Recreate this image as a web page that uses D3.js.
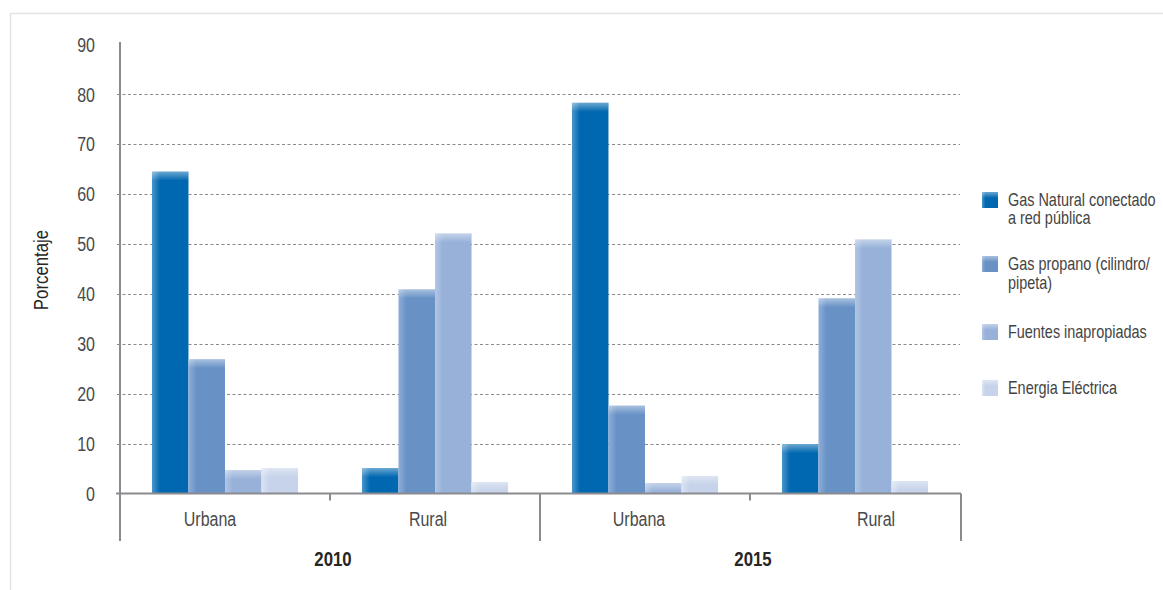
<!DOCTYPE html>
<html>
<head>
<meta charset="utf-8">
<script src="https://cdn.jsdelivr.net/npm/d3@7"></script>
<style>
  html, body { margin: 0; padding: 0; background: #fff; }
  svg { display: block; }
  text { font-family: "Liberation Sans", Arial, sans-serif; }
</style>
</head>
<body>
<svg id="chart" width="1163" height="590"></svg>
<script>
// ---------- data ----------
const years = ["2010", "2015"];
const categories = ["Urbana", "Rural", "Urbana", "Rural"];
const categoryYear = ["2010", "2010", "2015", "2015"];
const seriesNames = [
  ["Gas Natural conectado", "a red pública"],
  ["Gas propano (cilindro/", "pipeta)"],
  ["Fuentes inapropiadas"],
  ["Energia Eléctrica"]
];
const gasNatural = [64.5, 5.1, 78.3, 9.9];
const gasPropano = [26.9, 40.9, 17.6, 39.1];
const fuentesInapropiadas = [4.7, 52.1, 2.1, 50.9];
const energiaElectrica = [5.1, 2.3, 3.5, 2.5];
const yTicks = [0, 10, 20, 30, 40, 50, 60, 70, 80, 90];

const seriesValues = [gasNatural, gasPropano, fuentesInapropiadas, energiaElectrica];

// ---------- styles ----------
const mainColors = ["#0068b0", "#6892c6", "#97b1d9", "#c6d3ea"];
const lightColors = ["#4a95cb", "#8fadd7", "#b2c6e5", "#dae3f2"];
const axisColor = "#8b8b8f";
const NARROW = 0.8;

const svg = d3.select("#chart");
const defs = svg.append("defs");

// narrow text helper (condensed look via horizontal scale)
function narrowText(parent, x, y, str, o) {
  const g = parent.append("g").attr("transform", `translate(${x},${y}) scale(${o.narrow || NARROW},1)`);
  const t = g.append("text").attr("x", 0).attr("y", 0)
    .attr("text-anchor", o.anchor || "start")
    .attr("font-size", o.size || 19)
    .attr("font-weight", o.weight || "normal")
    .attr("fill", o.fill || "#4a4a4a");
  const lines = Array.isArray(str) ? str : [str];
  lines.forEach((ln, li) => {
    t.append("tspan").attr("x", 0).attr("dy", li === 0 ? (o.dy || 0) : (o.gap || 18)).text(ln);
  });
  return t;
}

mainColors.forEach((c, i) => {
  const g = defs.append("linearGradient").attr("id", "hg" + i)
    .attr("x1", "0").attr("x2", "1").attr("y1", "0").attr("y2", "0");
  g.append("stop").attr("offset", "0").attr("stop-color", lightColors[i]);
  g.append("stop").attr("offset", "0.22").attr("stop-color", c);
  g.append("stop").attr("offset", "1").attr("stop-color", c);
});
const vg = defs.append("linearGradient").attr("id", "topfade")
  .attr("x1", "0").attr("x2", "0").attr("y1", "0").attr("y2", "1");
vg.append("stop").attr("offset", "0").attr("stop-color", "#fff").attr("stop-opacity", 0.42);
vg.append("stop").attr("offset", "1").attr("stop-color", "#fff").attr("stop-opacity", 0);

// outer frame
svg.append("rect").attr("x", 10.5).attr("y", 13.5).attr("width", 1170).attr("height", 600)
  .attr("fill", "none").attr("stroke", "#e3e3e3").attr("stroke-width", 1.5);

// ---------- scales ----------
const plotLeft = 120, plotRight = 960;
const x = d3.scaleBand().domain(d3.range(categories.length)).range([plotLeft, plotRight]).padding(0);
const xs = d3.scaleBand().domain(d3.range(seriesValues.length)).range([0, x.bandwidth()])
  .paddingInner(0).paddingOuter(0.875);
const y = d3.scaleLinear().domain([0, 90]).range([493.5, 44.4]);
const yearScale = d3.scaleBand().domain(years).range([plotLeft, plotRight]);

// gridlines (none at the top value)
svg.append("g").selectAll("line").data(yTicks.filter(t => t > 0 && t < 90)).join("line")
  .attr("x1", plotLeft - 3).attr("x2", plotRight)
  .attr("y1", d => Math.round(y(d)) + 0.5).attr("y2", d => Math.round(y(d)) + 0.5)
  .attr("stroke", "#8a8a8a").attr("stroke-width", 1.1).attr("stroke-dasharray", "3,2.5");

// bars
const barsG = svg.append("g");
seriesValues.forEach((vals, si) => {
  const g = barsG.append("g");
  vals.forEach((v, ci) => {
    const bx = x(ci) + xs(si);
    const by = y(v);
    const bh = y(0) - by;
    g.append("rect").attr("x", bx).attr("y", by).attr("width", xs.bandwidth()).attr("height", bh)
      .attr("fill", `url(#hg${si})`);
    g.append("rect").attr("x", bx).attr("y", by).attr("width", xs.bandwidth()).attr("height", Math.min(9, bh))
      .attr("fill", "url(#topfade)");
  });
});

// y axis line
svg.append("line").attr("x1", plotLeft).attr("x2", plotLeft).attr("y1", 42).attr("y2", 541)
  .attr("stroke", axisColor).attr("stroke-width", 2);
// x axis line
svg.append("line").attr("x1", plotLeft - 4).attr("x2", plotRight + 1).attr("y1", y(0)).attr("y2", y(0))
  .attr("stroke", axisColor).attr("stroke-width", 2.2);

// y tick labels
const yLab = svg.append("g");
yTicks.forEach(d => narrowText(yLab, 95, y(d), String(d), { anchor: "end", size: 20, dy: "0.36em", fill: "#4a4a4a" }));

// category ticks (short, between categories inside a year)
const shortTicks = d3.range(categories.length).filter(i => i > 0 && categoryYear[i] === categoryYear[i - 1]);
svg.append("g").selectAll("line").data(shortTicks).join("line")
  .attr("x1", d => x(d)).attr("x2", d => x(d)).attr("y1", y(0)).attr("y2", y(0) + 7)
  .attr("stroke", axisColor).attr("stroke-width", 2);
// year dividers (long)
const yearEdges = [yearScale(years[0]), yearScale(years[1]), yearScale(years[1]) + yearScale.bandwidth()];
svg.append("g").selectAll("line").data(yearEdges.slice(1)).join("line")
  .attr("x1", d => d + (d >= plotRight ? 1 : 0)).attr("x2", d => d + (d >= plotRight ? 1 : 0))
  .attr("y1", y(0)).attr("y2", 541)
  .attr("stroke", axisColor).attr("stroke-width", 2);

// category labels
const labelShift = [-15, -7, -6, 21];
const catG = svg.append("g");
categories.forEach((d, i) => narrowText(catG, x(i) + x.bandwidth() / 2 + labelShift[i], 526, d,
  { anchor: "middle", size: 20, fill: "#4a4a4a" }));

// year labels
const yrG = svg.append("g");
years.forEach(d => narrowText(yrG, yearScale(d) + yearScale.bandwidth() / 2 + 3, 566, d,
  { anchor: "middle", size: 21, weight: "bold", fill: "#262626" }));

// y axis title
svg.append("g").attr("transform", "translate(48,270) rotate(-90) scale(" + NARROW + ",1)")
  .append("text").attr("text-anchor", "middle").attr("font-size", 21).attr("fill", "#262626")
  .text("Porcentaje");

// legend
const legendTops = [192, 256, 324, 380];
const legendLineGap = [19, 20, 20, 20];
const lg = svg.append("g");
seriesNames.forEach((lines, i) => {
  lg.append("rect").attr("x", 982).attr("y", legendTops[i]).attr("width", 16).attr("height", 16)
    .attr("fill", `url(#hg${i})`);
  lg.append("rect").attr("x", 982).attr("y", legendTops[i]).attr("width", 16).attr("height", 6)
    .attr("fill", "url(#topfade)");
  narrowText(lg, 1008, legendTops[i] + 13.5, lines, { size: 18.5, narrow: 0.78, fill: "#444", gap: legendLineGap[i] });
});
</script>
</body>
</html>
